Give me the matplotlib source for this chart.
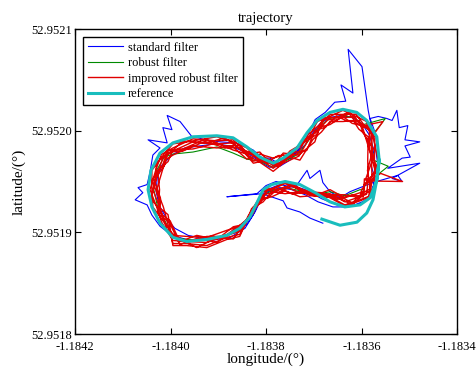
import numpy as np
import matplotlib
matplotlib.use('Agg')
import matplotlib.pyplot as plt
from matplotlib.ticker import FormatStrFormatter

plt.rcParams['font.family'] = ['Liberation Serif', 'DejaVu Serif']
plt.rcParams['axes.unicode_minus'] = False

# All track values below are micro-degrees measured from these base coordinates
LON0 = -1.1842
LAT0 = 52.9518
UNIT = 1e-6

# ---------------- reference trajectory ----------------
ref_x = [517, 555, 590.5, 611, 624, 632, 637, 632, 611, 590, 561, 534, 507, 486, 465, 436, 415, 387,
         360, 331, 297, 247, 205, 178, 159, 153, 161, 178, 205, 234, 276, 318, 345, 366, 381, 394,
         412, 440, 471, 503, 534, 565, 597, 618, 630, 632, 637]
ref_y = [113, 107, 110, 119, 132, 151.5, 171, 194, 210, 218, 221, 218, 210, 198, 183, 173, 168, 174,
         184, 193, 195, 194, 188, 178, 161, 142, 125, 109, 95, 91, 93, 97, 104, 115, 129, 142,
         147, 150, 147, 139, 130, 125, 127, 134, 149, 151.5, 171]

# ---------------- standard filter ----------------
std_x = [519, 492, 471, 444, 436, 392, 318, 381, 400, 421, 450, 482, 517, 549, 580, 607, 622,
         628, 620, 626, 616, 601, 580, 557, 534, 513, 498, 482, 465, 450, 429, 408, 392, 371, 346,
         325, 293, 262, 230, 203, 182, 172, 170, 176, 191, 209, 237, 268, 304, 337, 360, 377, 390,
         404, 429, 454, 482, 509, 540, 572, 597, 614,
         626, 635, 630, 624, 614, 601, 572, 582, 557, 567, 544, 524, 503, 488, 471, 450, 425, 408,
         392, 373, 354, 335, 304, 272, 258, 245, 220, 193, 203, 184, 193, 153, 178, 163, 157, 151,
         132, 142, 126, 151, 161, 178, 203, 241, 283, 325, 356, 373, 387, 402, 429, 461, 486, 492,
         513, 519, 534, 555, 576, 624, 676, 685, 664, 722, 655, 685, 702, 691, 722, 691, 697, 679,
         674, 664, 653, 635, 618, 630, 635]
std_y = [109, 114, 120, 124, 131, 138, 135, 138, 146, 150, 147, 142, 133, 127, 126, 131, 139,
         153, 166, 181, 196, 207, 213, 215, 213, 207, 198, 186, 179, 171, 165, 164, 168, 175, 181,
         185, 187, 185, 183, 176, 166, 153, 140, 127, 114, 104, 97, 94, 96, 100, 108, 120, 133,
         140, 144, 142, 137, 130, 125, 125, 128, 134,
         147, 163, 181, 196, 220, 263, 280, 237, 245, 229, 228, 218, 211, 196, 183, 173, 168, 173,
         173, 181, 185, 188, 189, 191, 193, 194, 209, 215, 201, 203, 188, 191, 183, 176, 159, 147,
         144, 139, 132, 127, 117, 106, 97, 92, 92, 95, 104, 117, 132, 142, 147, 144, 161, 153,
         161, 149, 140, 134, 140, 149, 156, 150, 153, 168, 163, 173, 174, 185, 189, 191, 205, 203,
         220, 210, 212, 214, 212, 196, 176]

# ---------------- robust filter ----------------
rob_x = [620, 656, 625, 620, 650, 602.6, 585.2, 561, 534, 511.6, 494.2, 468, 436, 415, 387, 360,
         331, 297, 247, 205, 186.4, 171, 165, 173, 186.4, 205, 234, 276, 318, 345, 370.2, 385.2,
         394, 412, 440, 471, 503, 534, 565, 597, 601.8, 614]
rob_y = [151.5, 165, 171, 194, 212, 205.8, 212.6, 215, 212, 204.4, 193.5, 177, 169, 164, 170, 172,
         178, 184, 179, 177, 173.8, 161, 142, 125, 113.2, 95, 93, 92, 98, 103, 117.1, 131.1,
         136, 141, 144, 141, 137, 140, 136, 142, 141.6, 151.4]

# ---------------- improved robust filter ----------------
imp_x = [628, 627, 628, 604, 588.4, 561, 534, 511, 488.7, 467.5, 436, 415, 387, 360, 331, 297, 247,
         205, 180.8, 169, 157, 171, 180.8, 205, 234, 276, 318, 345, 366, 376.8, 394, 412, 440, 471,
         503, 534, 565, 597, 615, 620, 686, 640,
         622, 621, 622, 645, 599.8, 586, 561, 534, 513.2, 492.8, 469, 436, 415, 387, 360, 331, 297,
         247, 205, 185, 175, 163, 177, 185, 205, 234, 276, 318, 345, 373, 383.8, 394, 412, 440, 471,
         503, 534, 565, 597, 610.6, 614,
         614, 613, 614, 594.2, 582.8, 561, 534, 516.2, 498.2, 471, 436, 415, 387, 360, 331, 297, 247,
         205, 190.6, 183, 171, 185, 190.6, 205, 234, 276, 318, 345, 363.2, 372.6, 394, 412, 440, 471,
         503, 534, 565, 597, 604.8, 606,
         624, 635, 624, 609.6, 586.8, 561, 534, 507.8, 491.4, 465.5, 436, 415, 387, 360, 331, 297,
         247, 205, 183.6, 161, 161, 163, 183.6, 205, 234, 276, 318, 345, 364.6, 385.2, 394, 412, 440,
         471, 503, 534, 565, 597, 616.5, 622,
         608, 623, 608, 601.2, 580.4, 561, 534, 512.4, 502.3, 468.5, 436, 415, 387, 360, 331, 297,
         247, 205, 194.8, 173, 177, 175, 194.8, 205, 234, 276, 318, 345, 360.4, 369.8, 394, 412, 440,
         471, 503, 534, 565, 597, 600.4, 616,
         628.5, 616.5, 616.4, 590.6, 574.3, 547.5, 521.7, 506.4, 478.2, 450, 425.5, 401, 373.5, 345.5,
         314, 272, 226, 193.6, 183.8, 162, 175, 174.6, 197.8, 219.5, 255, 297, 331.5, 352, 376.3,
         393.8, 403, 426, 455.5, 487, 518.5, 549.5, 581, 600.3, 618.9,
         612.5, 624.5, 602.8, 595, 571.1, 547.5, 524.9, 502, 485.4, 450.5, 425.5, 401, 373.5, 345.5,
         314, 272, 226, 195, 187.2, 166, 179, 178, 199.2, 219.5, 255, 297, 331.5, 354.1, 380.5,
         391, 403, 426, 455.5, 487, 518.5, 549.5, 581, 603.5, 605.3,
         632.5, 620.5, 619.8, 592.8, 575.1, 547.5, 520.9, 504.2, 476.4, 451, 425.5, 401, 373.5, 345.5,
         314, 272, 226, 196.4, 170.2, 170, 159, 181.4, 192.2, 219.5, 255, 297, 331.5, 355.5, 363.7,
         392.4, 403, 426, 455.5, 487, 518.5, 549.5, 581, 601.9, 622.3]
imp_y = [151.5, 171, 194, 206.5, 216.2, 216, 216, 205.4, 196.5, 178, 171, 163, 172, 179, 191, 190, 192,
         183, 176.6, 161, 142, 125, 110.4, 92, 91, 90, 97, 101, 115, 126.9, 140, 142, 148, 142,
         138.4, 135, 127, 132, 135.4, 150.5, 150, 158,
         151.5, 171, 194, 209, 204.4, 213.5, 213, 213, 202.6, 194.3, 175, 168, 160, 169, 176, 188, 187,
         189, 180, 174.5, 161, 142, 125, 112.5, 97, 96, 95, 102, 106, 118.5, 130.4, 137, 139, 145, 139,
         137.5, 138, 130, 135, 137.5, 151.4,
         151.5, 171, 194, 201.6, 209.9, 209, 209, 198.8, 191.3, 171, 176, 173, 177, 172, 184, 183, 185,
         176, 171.7, 161, 142, 125, 115.3, 89, 89, 87, 95, 98, 113.6, 124.8, 133, 135, 141, 135,
         136.3, 142, 134, 139, 140.2, 152.6,
         151.5, 171, 194, 209.3, 214.4, 220, 214, 209.1, 195, 182, 169, 167, 170, 183, 189, 194,
         190, 187, 175.2, 161, 142, 125, 111.8, 98, 90, 96, 96, 107, 114.3, 131.1, 141, 143, 149,
         143, 138.7, 134, 126, 131, 134.7, 150.2,
         151.5, 171, 194, 205.1, 207.2, 214, 206, 203.5, 189, 176, 178, 165, 179, 177, 181, 188,
         182, 181, 169.6, 161, 142, 125, 117.4, 87, 87, 85, 93, 96, 112.2, 123.4, 130, 140, 138,
         140, 135.4, 137, 137, 134, 142.3, 151.1,
         161, 182.5, 201, 206.8, 216.6, 210.5, 211.2, 196.4, 187.8, 180, 166.5, 173, 170, 185.5,
         185, 191.5, 182, 180.5, 166.4, 151.5, 133.5, 118, 109.7, 88, 94, 90, 102.5, 105.3, 123.4,
         132.8, 141.5, 139.5, 145.5, 137.6, 135.7, 136.5, 129, 138.2, 143,
         161, 182.5, 198.2, 210, 209.1, 214.5, 203.6, 199.8, 180.6, 178, 164.5, 171, 168, 183.5,
         183, 189.5, 180, 178.8, 165.7, 151.5, 133.5, 118.8, 111.4, 91, 97, 93, 105.5, 107.8, 125.5,
         134, 133.5, 143.5, 137.5, 140, 138.9, 132.5, 137, 134.8, 147,
         161, 182.5, 201.7, 208.4, 218.6, 212.5, 213, 198, 189.6, 176, 175.5, 169, 178, 181.5,
         193, 187.5, 190, 177, 169.2, 151.5, 133.5, 119.5, 102.9, 93, 85, 95, 93.5, 109.5, 117.1,
         133.4, 143.5, 141.5, 147.5, 138.8, 134.9, 134.5, 127, 136.5, 142]

x_ticks = [-1.1842, -1.1840, -1.1838, -1.1836, -1.1834]
y_ticks = [52.9518, 52.9519, 52.9520, 52.9521]


def lon(u):
    return LON0 + np.asarray(u, dtype=float) * UNIT


def lat(u):
    return LAT0 + np.asarray(u, dtype=float) * UNIT


fig = plt.figure(figsize=(4.76, 3.71), dpi=100)
ax = fig.add_axes([0.1576, 0.0997, 0.8025, 0.8221])

ax.plot(lon(std_x), lat(std_y), color='#0000ff', lw=0.8, label='standard filter')
ax.plot(lon(rob_x), lat(rob_y), color='#008a00', lw=0.8, label='robust filter')
ax.plot(lon(imp_x), lat(imp_y), color='#e00000', lw=1.0, label='improved robust filter')
ax.plot(lon(ref_x), lat(ref_y), color='#19bdbd', lw=2.2, label='reference',
        solid_joinstyle='round')

ax.set_xlim(x_ticks[0], x_ticks[-1])
ax.set_ylim(y_ticks[0], y_ticks[-1])
ax.set_xticks(x_ticks)
ax.set_yticks(y_ticks)
ax.xaxis.set_major_formatter(FormatStrFormatter('%.4f'))
ax.yaxis.set_major_formatter(FormatStrFormatter('%.4f'))
ax.tick_params(direction='in', top=True, right=True, length=4, width=0.8,
               labelsize=9, pad=2)
ax.tick_params(axis='x', pad=5)
for s in ax.spines.values():
    s.set_linewidth(1.0)

ax.set_xlabel('longitude/(°)', fontsize=11, labelpad=0)
ax.set_ylabel('latitude/(°)', fontsize=11, labelpad=4)
ax.set_title('trajectory', fontsize=10.5, pad=5)

leg = ax.legend(loc='upper left', bbox_to_anchor=(0.022, 0.975), fontsize=9,
                frameon=True, fancybox=False, shadow=False, framealpha=1,
                edgecolor='black', handlelength=2.8, handletextpad=0.35,
                labelspacing=0.28, borderpad=0.4, borderaxespad=0)
leg.get_frame().set_linewidth(1.0)

fig.savefig('out.png', dpi=100)
